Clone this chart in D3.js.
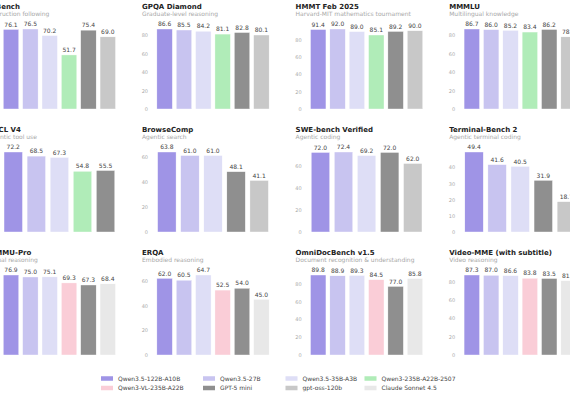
<!DOCTYPE html>
<html>
<head>
<meta charset="utf-8">
<script src="https://cdn.jsdelivr.net/npm/d3@7"></script>
<style>
  html, body { margin: 0; padding: 0; background: #fff; }
  svg { display: block; font-family: "DejaVu Sans", sans-serif; }
  .tick text { fill: #aaa; font-size: 5px; }
</style>
</head>
<body>
<div id="chart"></div>
<script>
// models in legend order
const models = ["Qwen3.5-122B-A10B", "Qwen3.5-27B", "Qwen3.5-35B-A3B", "Qwen3-235B-A22B-2507",
                "Qwen3-VL-235B-A22B", "GPT-5 mini", "gpt-oss-120b", "Claude Sonnet 4.5"];
const modelColors = ["#9f94e6", "#c8c4f0", "#dedef6", "#b0ecb8",
                     "#facdd7", "#8f8f8f", "#c8c8c8", "#e8e8e8"];

const benchTitles = ["IFBench", "GPQA Diamond", "HMMT Feb 2025", "MMMLU",
                     "BFCL V4", "BrowseComp", "SWE-bench Verified", "Terminal-Bench 2",
                     "MMMU-Pro", "ERQA", "OmniDocBench v1.5", "Video-MME (with subtitle)"];
const benchSubtitles = ["Instruction following", "Graduate-level reasoning", "Harvard-MIT mathematics tournament", "Multilingual knowledge",
                        "Agentic tool use", "Agentic search", "Agentic coding", "Agentic terminal coding",
                        "Visual reasoning", "Embodied reasoning", "Document recognition & understanding", "Video reasoning"];

// which models appear in each panel (index into models)
const benchModels = [
  [0, 1, 2, 3, 5, 6], [0, 1, 2, 3, 5, 6], [0, 1, 2, 3, 5, 6], [0, 1, 2, 3, 5, 6],
  [0, 1, 2, 3, 5],    [0, 1, 2, 5, 6],    [0, 1, 2, 5, 6],    [0, 1, 2, 5, 6],
  [0, 1, 2, 4, 5, 7], [0, 1, 2, 4, 5, 7], [0, 1, 2, 4, 5, 7], [0, 1, 2, 4, 5, 7]
];
const benchValues = [
  [76.1, 76.5, 70.2, 51.7, 75.4, 69.0],
  [86.6, 85.5, 84.2, 81.1, 82.8, 80.1],
  [91.4, 92.0, 89.0, 85.1, 89.2, 90.0],
  [86.7, 86.0, 85.2, 83.4, 86.2, 78.2],
  [72.2, 68.5, 67.3, 54.8, 55.5],
  [63.8, 61.0, 61.0, 48.1, 41.1],
  [72.0, 72.4, 69.2, 72.0, 62.0],
  [49.4, 41.6, 40.5, 31.9, 18.7],
  [76.9, 75.0, 75.1, 69.3, 67.3, 68.4],
  [62.0, 60.5, 64.7, 52.5, 54.0, 45.0],
  [89.8, 88.9, 89.3, 84.5, 77.0, 85.8],
  [87.3, 87.0, 86.6, 83.8, 83.5, 81.1]
];

const W = 570, H = 398;
const colStep = 153.6, rowStep = 123;
const firstColX = -11.6, firstBase = 109;

let svg = d3.select("#chart").append("svg")
    .attr("width", W)
    .attr("height", H);

svg.append("rect").attr("width", W).attr("height", H).attr("fill", "#fff");

benchTitles.forEach(function(title, i) {
    let r = Math.floor(i / 4), c = i % 4;
    let colX = firstColX + c * colStep;
    let base = firstBase + r * rowStep;
    let vals = benchValues[i];
    let idx = benchModels[i];
    let maxV = d3.max(vals);

    let g = svg.append("g");

    let xScale = d3.scaleBand()
        .domain(d3.range(vals.length))
        .range([colX + 11, colX + 131])
        .paddingInner(0.2)
        .paddingOuter(0.2);

    let yScale = d3.scaleLinear()
        .domain([0, maxV * 1.15])
        .range([base, base - 92]);

    let yAxis = d3.axisLeft(yScale)
        .tickValues(yScale.ticks(5).filter(t => t <= maxV))
        .tickSize(0)
        .tickPadding(4);

    g.append("g")
        .attr("transform", "translate(" + (colX + 10) + ",0)")
        .call(yAxis)
        .call(a => a.select(".domain").remove())
        .selectAll("text")
        .attr("font-family", "DejaVu Sans");

    g.append("text")
        .attr("x", colX)
        .attr("y", base - 100)
        .attr("font-size", 7)
        .attr("font-weight", "bold")
        .attr("fill", "#222")
        .text(title);

    g.append("text")
        .attr("x", colX)
        .attr("y", base - 93)
        .attr("font-size", 6)
        .attr("fill", "#a8a8a8")
        .text(benchSubtitles[i]);

    g.selectAll(".bar")
        .data(vals)
        .enter()
        .append("rect")
        .attr("class", "bar")
        .attr("x", (d, j) => xScale(j))
        .attr("y", d => yScale(d))
        .attr("width", xScale.bandwidth())
        .attr("height", d => base - yScale(d))
        .attr("fill", (d, j) => modelColors[idx[j]])
        .attr("stroke", "#fff")
        .attr("stroke-width", 0.4);

    g.selectAll(".val")
        .data(vals)
        .enter()
        .append("text")
        .attr("class", "val")
        .attr("x", (d, j) => xScale(j) + xScale.bandwidth() / 2)
        .attr("y", d => yScale(d) - 2.8)
        .attr("text-anchor", "middle")
        .attr("font-size", 6)
        .attr("fill", "#444")
        .text(d => d.toFixed(1));
});

// legend, 4 columns x 2 rows
const legendColX = [101, 203, 285.5, 364.5];
const legendRowY = [378.5, 388];

let legend = svg.append("g");
models.forEach(function(m, i) {
    let lx = legendColX[i % 4], ly = legendRowY[Math.floor(i / 4)];
    legend.append("rect")
        .attr("x", lx)
        .attr("y", ly - 2.25)
        .attr("width", 12)
        .attr("height", 4.5)
        .attr("fill", modelColors[i]);
    legend.append("text")
        .attr("x", lx + 17)
        .attr("y", ly)
        .attr("dy", "0.35em")
        .attr("font-size", 6)
        .attr("fill", "#444")
        .text(m);
});
</script>
</body>
</html>
